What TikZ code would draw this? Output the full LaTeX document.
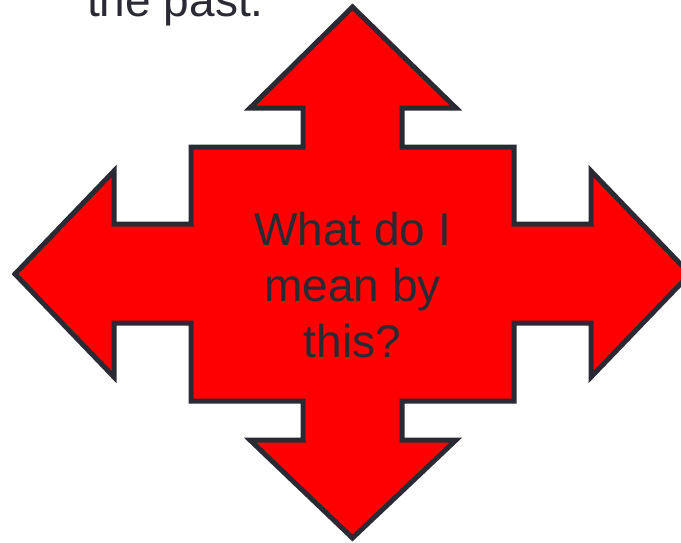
\documentclass[tikz,border=0pt]{standalone}
\usepackage{fontspec}
\setmainfont{Liberation Sans}
\definecolor{edgegray}{RGB}{42,42,52}
\definecolor{arrowred}{RGB}{255,0,0}

\begin{document}
\begin{tikzpicture}[x=1pt, y=-1pt,
    crossarrow/.style={line width=5pt, draw=edgegray, fill=arrowred, line join=miter},
    bigtext/.style={text=edgegray, font=\fontsize{46}{56}\selectfont, inner sep=0pt}]
    \useasboundingbox (0,0) rectangle (681,542);
    \clip (0,0) rectangle (681,542);

    % four-way arrow
    \draw[crossarrow] (352.5,7) -- (456,108) -- (402,108) -- (402,147) -- (514,147)
        -- (514,224) -- (591,224) -- (591,171) -- (690,274) -- (591,377) -- (591,323)
        -- (514,323) -- (514,401) -- (402,401) -- (402,440) -- (456,440) -- (352.5,538)
        -- (250,440) -- (303,440) -- (303,401) -- (191,401) -- (191,323) -- (114,323)
        -- (114,377) -- (15,274) -- (114,171) -- (114,224) -- (191,224) -- (191,147)
        -- (303,147) -- (303,108) -- (250,108) -- cycle;

    \node[bigtext, anchor=base west] (past) at (87,16) {the past.};
    \node[bigtext, align=center, anchor=base] (question) at (352.5,357) {What do I\\mean by\\this?};
\end{tikzpicture}
\end{document}
